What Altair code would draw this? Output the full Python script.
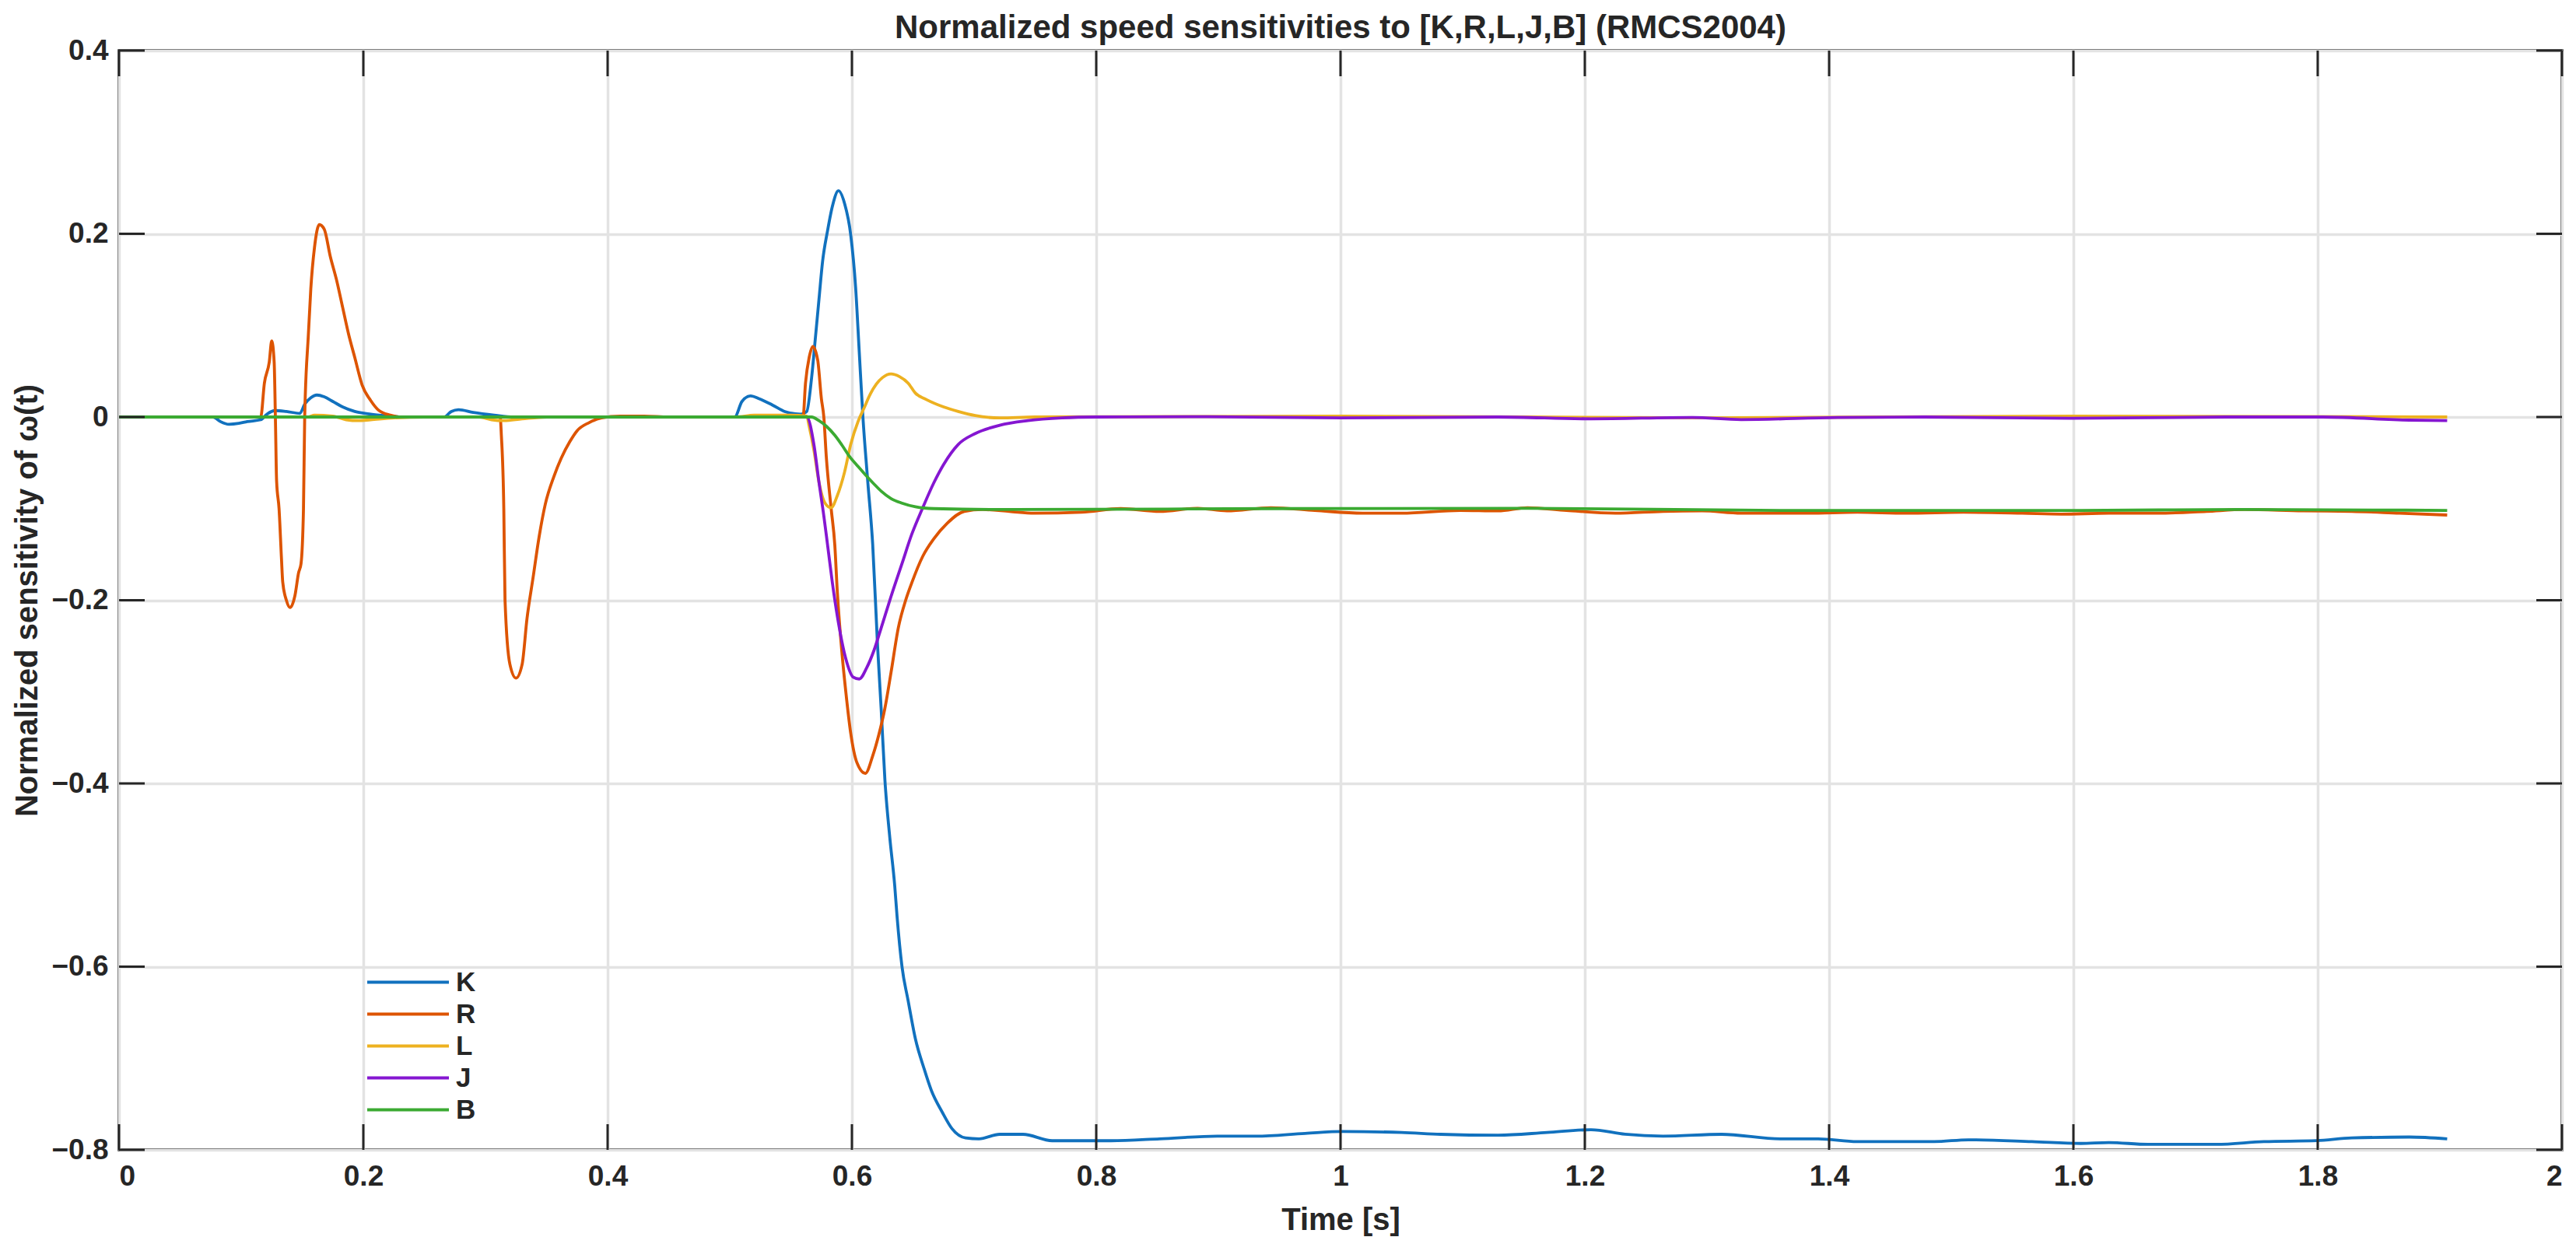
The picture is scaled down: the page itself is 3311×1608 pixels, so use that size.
import altair as alt
import pandas as pd

# ---- data ----
K_t = [0, 0.077, 0.083, 0.090, 0.098, 0.105, 0.116, 0.121, 0.128, 0.137, 0.148, 0.152, 0.157, 0.162,
       0.168, 0.175, 0.183, 0.193, 0.206, 0.222, 0.232, 0.266, 0.272, 0.278, 0.290, 0.307, 0.323,
       0.504, 0.510, 0.517, 0.524, 0.535, 0.545, 0.558, 0.563, 0.567, 0.570, 0.573, 0.576, 0.580,
       0.584, 0.589, 0.594, 0.599, 0.603, 0.606, 0.609, 0.613, 0.617, 0.621, 0.624, 0.627, 0.631,
       0.635, 0.637, 0.641, 0.646, 0.652, 0.659, 0.665, 0.674, 0.682, 0.693, 0.704, 0.721, 0.740,
       0.764, 0.812, 0.852, 0.899, 0.931, 0.971, 1.002, 1.050, 1.082, 1.129, 1.169, 1.205, 1.233,
       1.264, 1.312, 1.360, 1.391, 1.423, 1.486, 1.514, 1.566, 1.606, 1.629, 1.661, 1.717, 1.756,
       1.799, 1.828, 1.875, 1.906]
K_v = [0, 0, -0.005, -0.008, -0.007, -0.005, -0.003, 0.003, 0.007, 0.006, 0.004, 0.014, 0.021, 0.024,
       0.022, 0.017, 0.011, 0.006, 0.003, 0.001, 0, 0, 0.006, 0.008, 0.005, 0.002, 0,
       0, 0.017, 0.023, 0.020, 0.013, 0.006, 0.003, 0.006, 0.043, 0.085, 0.128, 0.170, 0.203,
       0.230, 0.247, 0.233, 0.199, 0.142, 0.071, 0.0, -0.071, -0.139, -0.25, -0.32, -0.396, -0.459,
       -0.511, -0.546, -0.600, -0.637, -0.679, -0.711, -0.735, -0.759, -0.777, -0.787, -0.788, -0.783, -0.783,
       -0.790, -0.790, -0.788, -0.785, -0.785, -0.782, -0.780, -0.781, -0.783, -0.784, -0.781, -0.778, -0.783,
       -0.785, -0.783, -0.788, -0.788, -0.791, -0.791, -0.789, -0.791, -0.793, -0.792, -0.794, -0.794, -0.791,
       -0.790, -0.787, -0.786, -0.788]

R_t = [0, 0.116, 0.119, 0.123, 0.125, 0.127, 0.128, 0.129, 0.131, 0.133, 0.134, 0.137, 0.140, 0.144,
       0.147, 0.149, 0.151, 0.152, 0.155, 0.157, 0.160, 0.164, 0.168, 0.173, 0.178, 0.183, 0.188,
       0.193, 0.199, 0.206, 0.212, 0.222, 0.232, 0.312, 0.313, 0.315, 0.316, 0.320, 0.325, 0.330,
       0.334, 0.339, 0.344, 0.349, 0.356, 0.362, 0.369, 0.375, 0.385, 0.395, 0.410, 0.430, 0.450,
       0.560, 0.562, 0.565, 0.568, 0.572, 0.575, 0.577, 0.579, 0.583, 0.586, 0.588, 0.592, 0.595,
       0.599, 0.604, 0.611, 0.617, 0.622, 0.627, 0.632, 0.638, 0.644, 0.649, 0.658, 0.667, 0.678,
       0.692, 0.707, 0.729, 0.749, 0.788, 0.820, 0.852, 0.883, 0.907, 0.943, 0.979, 1.018, 1.050,
       1.098, 1.129, 1.153, 1.185, 1.225, 1.264, 1.296, 1.328, 1.383, 1.423, 1.463, 1.510, 1.558,
       1.590, 1.629, 1.669, 1.709, 1.740, 1.788, 1.828, 1.867, 1.906]
R_v = [0, 0, 0.037, 0.060, 0.083, 0.060, 0.0, -0.070, -0.100, -0.155, -0.180, -0.200, -0.208, -0.195,
       -0.170, -0.160, -0.100, 0.0, 0.090, 0.140, 0.185, 0.210, 0.205, 0.175, 0.150, 0.120, 0.090,
       0.065, 0.035, 0.018, 0.008, 0.002, 0, 0, -0.020, -0.100, -0.200, -0.270, -0.285, -0.270,
       -0.220, -0.175, -0.130, -0.095, -0.065, -0.045, -0.027, -0.015, -0.006, -0.001, 0.001, 0.001, 0,
       0, 0.037, 0.065, 0.077, 0.062, 0.020, 0.0, -0.043, -0.100, -0.140, -0.190, -0.260, -0.300,
       -0.345, -0.377, -0.389, -0.370, -0.347, -0.318, -0.279, -0.230, -0.200, -0.181, -0.152, -0.133, -0.116,
       -0.103, -0.101, -0.103, -0.105, -0.104, -0.100, -0.103, -0.0996, -0.1025, -0.099, -0.102, -0.105, -0.105,
       -0.102, -0.1025, -0.099, -0.102, -0.105, -0.103, -0.1025, -0.105, -0.105, -0.104, -0.105, -0.104, -0.105,
       -0.106, -0.105, -0.105, -0.103, -0.101, -0.1025, -0.103, -0.105, -0.107]

L_t = [0, 0.155, 0.160, 0.175, 0.186, 0.196, 0.206, 0.225, 0.250, 0.295, 0.305, 0.315, 0.330, 0.350,
       0.505, 0.520, 0.550, 0.563, 0.565, 0.569, 0.573, 0.578, 0.583, 0.588, 0.594, 0.599, 0.605,
       0.610, 0.615, 0.620, 0.625, 0.632, 0.639, 0.646, 0.652, 0.661, 0.675, 0.687, 0.701, 0.721,
       0.750, 1.000, 1.300, 1.600, 1.906]
L_v = [0, 0, 0.002, 0.001, -0.003, -0.004, -0.003, -0.001, 0, 0, -0.003, -0.004, -0.002, 0,
       0, 0.002, 0.002, 0.001, -0.010, -0.037, -0.071, -0.094, -0.099, -0.086, -0.060, -0.030, -0.005,
       0.010, 0.025, 0.036, 0.043, 0.047, 0.044, 0.037, 0.026, 0.019, 0.011, 0.006, 0.0015, -0.001,
       0, 0.001, -0.001, 0.001, 0]

J_t = [0, 0.563, 0.569, 0.573, 0.577, 0.580, 0.584, 0.589, 0.595, 0.601, 0.606, 0.612, 0.618, 0.624,
       0.632, 0.641, 0.649, 0.658, 0.667, 0.675, 0.687, 0.701, 0.721, 0.744, 0.772, 0.800, 0.891,
       1.000, 1.129, 1.205, 1.288, 1.328, 1.407, 1.478, 1.598, 1.725, 1.804, 1.875, 1.906]
J_v = [0, 0, -0.031, -0.071, -0.108, -0.139, -0.181, -0.225, -0.264, -0.284, -0.286, -0.274, -0.255, -0.230,
       -0.196, -0.160, -0.128, -0.099, -0.072, -0.052, -0.030, -0.018, -0.009, -0.004, -0.001, 0, 0.0003,
       -0.001, 0, -0.002, -0.0005, -0.0028, -0.0005, 0, -0.0014, 0, 0, -0.0034, -0.004]

B_t = [0, 0.567, 0.573, 0.579, 0.586, 0.592, 0.598, 0.605, 0.611, 0.618, 0.624, 0.632, 0.641, 0.652,
       0.667, 0.733, 0.943, 1.153, 1.360, 1.600, 1.740, 1.906]
B_v = [0, 0, -0.004, -0.010, -0.020, -0.031, -0.043, -0.054, -0.063, -0.073, -0.081, -0.089, -0.094, -0.098,
       -0.100, -0.101, -0.100, -0.0996, -0.102, -0.102, -0.101, -0.102]

series_names = ["K", "R", "L", "J", "B"]
series_colors = ["#1171BE", "#DD5400", "#EDB120", "#8516D1", "#3BAA32"]
x_ticks = [0, 0.2, 0.4, 0.6, 0.8, 1.0, 1.2, 1.4, 1.6, 1.8, 2.0]
y_ticks = [-0.8, -0.6, -0.4, -0.2, 0, 0.2, 0.4]

rows = []
for name, ts, vs in zip(series_names, [K_t, R_t, L_t, J_t, B_t], [K_v, R_v, L_v, J_v, B_v]):
    for t, v in zip(ts, vs):
        rows.append({"t": t, "val": v, "s": name})
df = pd.DataFrame(rows)
xt = pd.DataFrame({"t": x_ticks})
yt = pd.DataFrame({"val": y_ticks})

W, H = 3140, 1413
TXT = "#262626"
FONT = "Liberation Sans"

X = alt.X("t:Q", title="Time [s]",
          scale=alt.Scale(domain=[0, 2], nice=False, zero=False),
          axis=alt.Axis(values=x_ticks, format="~g", grid=True, ticks=False, domain=False,
                        labelPadding=16, titlePadding=18))
Y = alt.Y("val:Q", title="Normalized sensitivity of ω(t)",
          scale=alt.Scale(domain=[-0.8, 0.4], nice=False, zero=False),
          axis=alt.Axis(values=y_ticks, format="~g", grid=True, ticks=False, domain=False,
                        labelPadding=14, titlePadding=10))

color = alt.Color("s:N", sort=series_names,
                  scale=alt.Scale(domain=series_names, range=series_colors),
                  legend=alt.Legend(title=None, orient="none", legendX=354, legendY=1180,
                                    symbolType="M-5,0H5", symbolSize=441, symbolStrokeWidth=3.8,
                                    labelOffset=44, rowPadding=5, padding=0,
                                    labelFontSize=35, labelFont=FONT, labelFontWeight="bold",
                                    labelColor=TXT))

base = alt.Chart(df).mark_line(strokeWidth=3.8, clip=True, interpolate="monotone")
line_layers = [base.transform_filter(alt.datum.s == n).encode(x=X, y=Y, color=color)
               for n in series_names]

tick_len = 33
tick_style = dict(color=TXT, strokeWidth=3)
top_ticks = alt.Chart(xt).mark_rule(**tick_style).encode(x=X, y=alt.value(0), y2=alt.value(tick_len))
bot_ticks = alt.Chart(xt).mark_rule(**tick_style).encode(x=X, y=alt.value(H), y2=alt.value(H - tick_len))
left_ticks = alt.Chart(yt).mark_rule(**tick_style).encode(y=Y, x=alt.value(0), x2=alt.value(tick_len))
right_ticks = alt.Chart(yt).mark_rule(**tick_style).encode(y=Y, x=alt.value(W), x2=alt.value(W - tick_len))

chart = alt.layer(*line_layers, top_ticks, bot_ticks, left_ticks, right_ticks).properties(
    width=W, height=H,
    title=alt.TitleParams("Normalized speed sensitivities to [K,R,L,J,B] (RMCS2004)",
                          fontSize=42, font=FONT, fontWeight="bold", color=TXT, offset=14,
                          dy=26, anchor="middle"),
    autosize=alt.AutoSizeParams(type="none"),
    padding={"left": 145, "top": 57, "right": 10, "bottom": 120},
    background="white",
).configure_view(
    stroke=TXT, strokeWidth=3.5
).configure_axis(
    labelFont=FONT, labelFontSize=37, labelFontWeight="bold", labelColor=TXT,
    titleFont=FONT, titleFontSize=40, titleFontWeight="bold", titleColor=TXT,
    gridColor="#e3e3e3", gridWidth=3.5, gridOpacity=1,
)

chart.save("out.html", embed_options={"renderer": "svg", "actions": False})
